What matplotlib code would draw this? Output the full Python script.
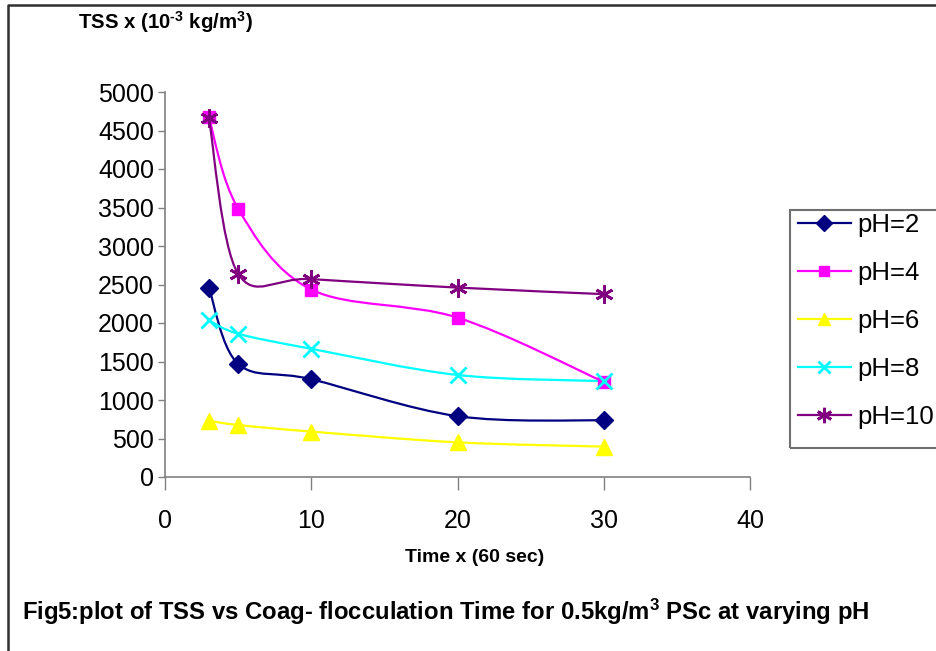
import matplotlib
matplotlib.use("Agg")
import matplotlib.pyplot as plt
from matplotlib.path import Path
from matplotlib.patches import PathPatch, Rectangle
from matplotlib.lines import Line2D

plt.rcParams['font.family'] = ['Liberation Sans', 'DejaVu Sans']
plt.rcParams['mathtext.default'] = 'regular'

# data
time_min = [3, 5, 10, 20, 30]
tss_ph2 = [2460, 1470, 1270, 790, 735]
tss_ph4 = [4670, 3485, 2435, 2070, 1235]
tss_ph6 = [730, 675, 590, 450, 395]
tss_ph8 = [2035, 1860, 1665, 1325, 1245]
tss_ph10 = [4665, 2640, 2570, 2460, 2375]

series_labels = ["pH=2", "pH=4", "pH=6", "pH=8", "pH=10"]
series_values = [tss_ph2, tss_ph4, tss_ph6, tss_ph8, tss_ph10]
colors = ["#000080", "#FF00FF", "#FFFF00", "#00FFFF", "#800080"]
markers = ["D", "s", "^", "x", (6, 2, 0)]
msizes = [9, 9, 11, 11, 13]

y_ticks = list(range(0, 5001, 500))
x_ticks = [0, 10, 20, 30, 40]


def smooth_path(xs, ys):
    # Excel-like smoothed line: cubic Bezier through the points (Catmull-Rom, 1/6)
    pts = list(zip(xs, ys))
    n = len(pts)
    verts = [pts[0]]
    codes = [Path.MOVETO]
    for i in range(n - 1):
        p0 = pts[max(i - 1, 0)]
        p1 = pts[i]
        p2 = pts[i + 1]
        p3 = pts[min(i + 2, n - 1)]
        c1 = (p1[0] + (p2[0] - p0[0]) / 6, p1[1] + (p2[1] - p0[1]) / 6)
        c2 = (p2[0] - (p3[0] - p1[0]) / 6, p2[1] - (p3[1] - p1[1]) / 6)
        verts += [c1, c2, p2]
        codes += [Path.CURVE4] * 3
    return Path(verts, codes)


fig = plt.figure(figsize=(9.36, 6.51), dpi=100)
ax = fig.add_axes([165 / 936, 1 - 477 / 651, 585 / 936, 385 / 651])

for vals, col, mk, ms in zip(series_values, colors, markers, msizes):
    ax.add_patch(PathPatch(smooth_path(time_min, vals), fill=False, edgecolor=col, lw=1.6, zorder=2))
    mew = 2 if mk in ("x", (6, 2, 0)) else 1
    ax.plot(time_min, vals, linestyle='none', marker=mk, color=col, markersize=ms,
            markeredgewidth=mew, zorder=3)

ax.set_xlim(0, 40)
ax.set_ylim(0, 5000)
ax.set_xticks(x_ticks)
ax.set_yticks(y_ticks)
ax.tick_params(axis='both', labelsize=18, color='#808080', direction='out')
ax.tick_params(axis='x', length=9, width=1, pad=14)
ax.tick_params(axis='y', length=5, width=1, pad=3)
for s in ['top', 'right']:
    ax.spines[s].set_visible(False)
for s in ['left', 'bottom']:
    ax.spines[s].set_color('#808080')
    ax.spines[s].set_linewidth(1.2)

# legend
handles = [Line2D([], [], color=c, marker=m, markersize=ms * 0.85, lw=1.6,
                  markeredgewidth=(2 if m in ("x", (6, 2, 0)) else 1))
           for c, m, ms in zip(colors, markers, msizes)]
fig.legend(handles, series_labels, loc='upper left', bbox_to_anchor=(798 / 936, 1 - 213 / 651),
           frameon=False, fontsize=18.5, handlelength=2.05, handletextpad=0.25,
           labelspacing=0.93, borderpad=0, borderaxespad=0)
fig.add_artist(Rectangle((790 / 936, 1 - 448 / 651), 0.2, 238 / 651, transform=fig.transFigure,
                         fill=False, edgecolor='#707070', lw=1.5))

# texts
fig.text(78 / 936, 1 - 22 / 651, 'TSS x (10$^{\u20103}$ kg/m$^{3}$)', fontsize=14.7,
         fontweight='bold', ha='left', va='center')
fig.text(475 / 936, 1 - 557 / 651, 'Time x (60 sec)',
         fontsize=14, fontweight='bold', ha='center', va='center')
fig.text(22 / 936, 1 - 612 / 651,
         r'Fig5:plot of TSS vs Coag- flocculation Time for 0.5kg/m$^{3}$ PSc at varying pH',
         fontsize=17.2, fontweight='bold', ha='left', va='center')

# outer frame (top and left edge only)
fig.add_artist(Line2D([8 / 936, 8 / 936, 1], [0, 1 - 5 / 651, 1 - 5 / 651],
                      transform=fig.transFigure, color='#303030', lw=1.8))

fig.savefig("out.png", dpi=100)
